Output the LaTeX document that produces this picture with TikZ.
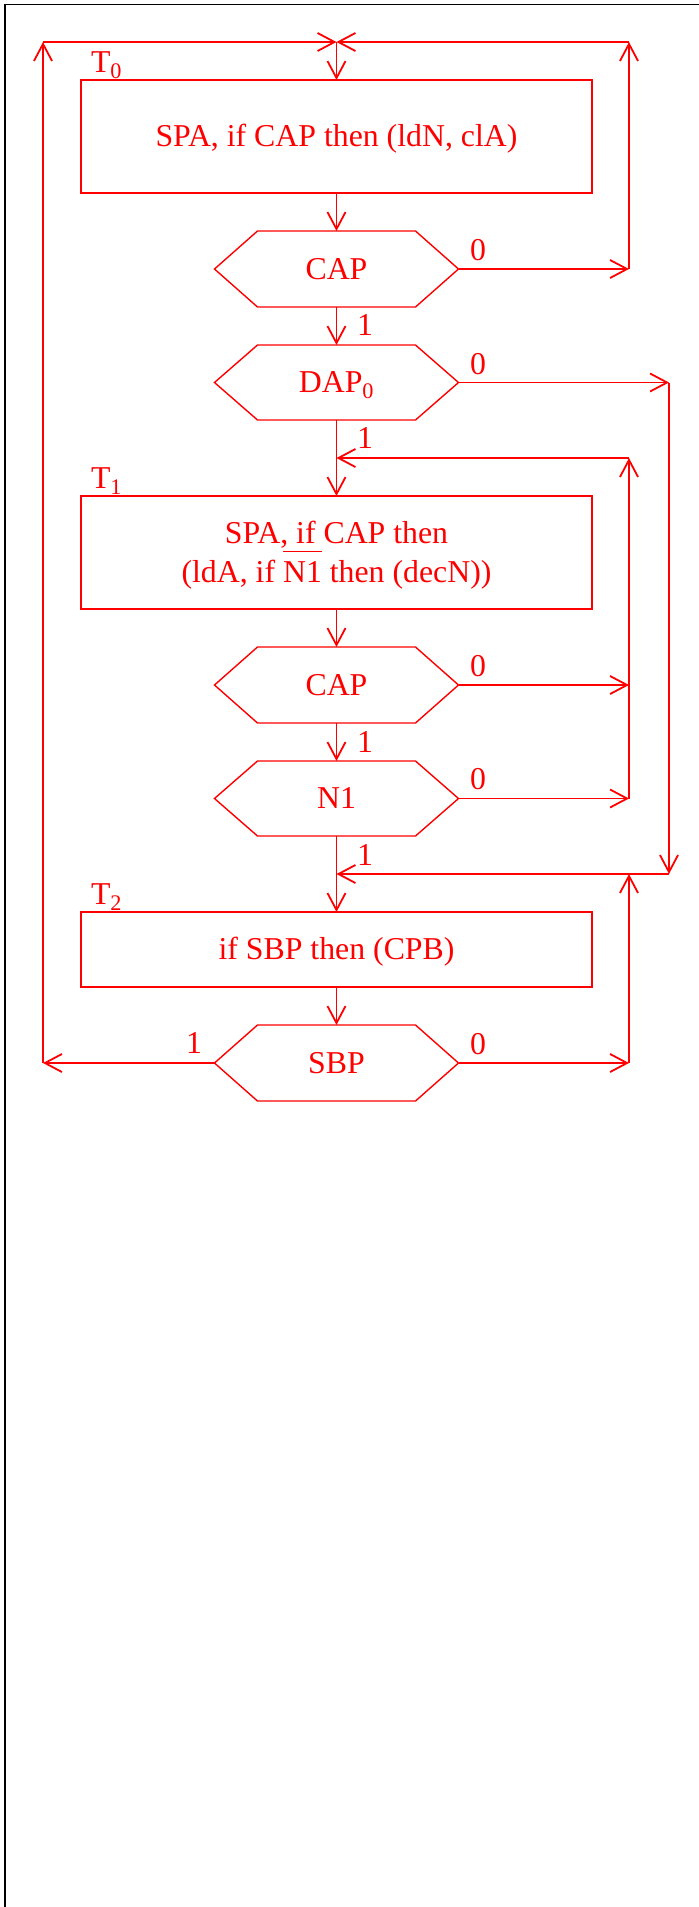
\documentclass[tikz,border=0pt]{standalone}
\usepackage{fontspec}
\setmainfont{Liberation Serif}
\usetikzlibrary{arrows.meta}
\newcommand\myovl[1]{\setbox0\hbox{#1}\rlap{\rule[0.95em]{\wd0}{1.4pt}}\box0\relax}
\begin{document}
\begin{tikzpicture}[x=1pt,y=-1pt,font=\fontsize{31.8}{39}\selectfont,
  conn/.style={draw=red,line width=1.8pt},
  arr/.style={conn,-{Straight Barb[length=17pt,width=18pt]}},
  boxst/.style={draw=red,line width=1.3pt,minimum width=511pt,inner sep=0pt,outer sep=0pt,text=red},
  hexst/.style={minimum width=244pt,minimum height=76pt,inner sep=0pt,outer sep=0pt,text=red,text height=20.5pt,text depth=0pt},
  hexline/.style={draw=red,line width=1.4pt,line join=miter},
  lbl/.style={inner sep=0pt,outer sep=0pt,anchor=base,text=red},
  tlbl/.style={inner sep=0pt,outer sep=0pt,anchor=base west,text=red}]
\useasboundingbox (0,0) rectangle (699,1907);
\fill[white] (0,0) rectangle (699,1907);
\draw[black,line width=1.2pt] (5,1907) -- (5,4.5) -- (699,4.5);

% nodes
\node[boxst,minimum height=113pt,text height=20.5pt,text depth=0pt] (box0) at (336.5,136.5) {SPA, if CAP then (ldN, clA)};
\node[hexst] (cap0) at (336.5,269) {CAP};
\node[hexst,minimum height=75pt] (dap) at (336.5,382.5) {DAP\textsubscript{0}};
\node[boxst,minimum height=113pt,align=center] (box1) at (336.5,552.5) {\rule{0pt}{27pt}SPA, if CAP then\\(ldA, if \myovl{N1} then (decN))};
\node[hexst] (cap1) at (336.5,685) {CAP};
\node[hexst,minimum height=75pt] (n1) at (336.5,798.5) {N1};
\node[boxst,minimum height=75pt,text height=20.5pt,text depth=0pt] (box2) at (336.5,949.5) {if SBP then (CPB)};
\node[hexst] (sbp) at (336.5,1063) {SBP};

\foreach \h in {cap0,dap,cap1,n1,sbp}
  \draw[hexline] (\h.west) -- ([xshift=43pt]\h.north west) -- ([xshift=-43pt]\h.north east) -- (\h.east) -- ([xshift=-43pt]\h.south east) -- ([xshift=43pt]\h.south west) -- cycle;

% labels
\node[tlbl] (t0) at (91,72) {T\textsubscript{0}};
\node[tlbl] (t1) at (91,488) {T\textsubscript{1}};
\node[tlbl] (t2) at (91,904) {T\textsubscript{2}};

\node[lbl] (z0) at (478,260) {0};
\node[lbl] (z1) at (478,374) {0};
\node[lbl] (z2) at (478,676) {0};
\node[lbl] (z3) at (478,789) {0};
\node[lbl] (z4) at (478,1054) {0};
\node[lbl] (o0) at (365,335) {1};
\node[lbl] (o1) at (365,448) {1};
\node[lbl] (o2) at (365,752) {1};
\node[lbl] (o3) at (365,865) {1};
\node[lbl] (o4) at (194,1053) {1};

% coordinates
\coordinate (tc) at (336.5,42);
\coordinate (tl) at (43,42);
\coordinate (tr) at (629,42);
\coordinate (r0) at (629,269);
\coordinate (d0) at (669,382.5);
\coordinate (d1) at (669,874);
\coordinate (j1) at (336.5,458);
\coordinate (r1) at (629,458);
\coordinate (r2) at (629,685);
\coordinate (r3) at (629,798.5);
\coordinate (j2) at (336.5,874);
\coordinate (r4) at (629,874);
\coordinate (r5) at (629,1063);
\coordinate (l5) at (43,1063);

% connectors
\draw[arr] (tl) -- (tc);
\draw[arr] (tr) -- (tc);
\draw[arr] (tc) -- (box0.north);
\draw[arr] (box0.south) -- (cap0.north);
\draw[arr] (cap0.east) -- (r0);
\draw[arr] (r0) -- (tr);
\draw[arr] (cap0.south) -- (dap.north);
\draw[arr] (dap.east) -- (d0);
\draw[arr] (d0) -- (d1);
\draw[arr] (d1) -- (j2);
\draw[arr] (dap.south) -- (box1.north);
\draw[arr] (r1) -- (j1);
\draw[arr] (box1.south) -- (cap1.north);
\draw[arr] (cap1.east) -- (r2);
\draw[arr] (cap1.south) -- (n1.north);
\draw[arr] (n1.east) -- (r3);
\draw[arr] (r3) -- (r1);
\draw[arr] (n1.south) -- (box2.north);
\draw[arr] (box2.south) -- (sbp.north);
\draw[arr] (sbp.east) -- (r5);
\draw[arr] (r5) -- (r4);
\draw[arr] (sbp.west) -- (l5);
\draw[arr] (l5) -- (tl);
\end{tikzpicture}
\end{document}
